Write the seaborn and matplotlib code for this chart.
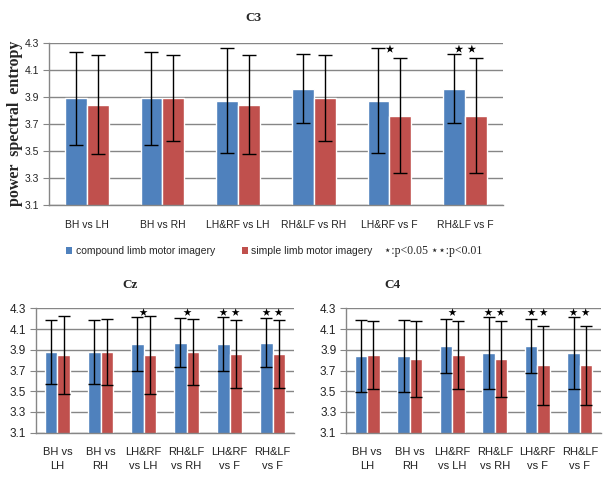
import pandas as pd
import seaborn as sns
import matplotlib
matplotlib.use("Agg")
import matplotlib.pyplot as plt
from matplotlib.patches import Patch

# comparisons
cats_c3 = ['BH vs LH', 'BH vs RH', 'LH&RF vs LH', 'RH&LF vs RH', 'LH&RF vs F', 'RH&LF vs F']
cats_low = ['BH vs\nLH', 'BH vs\nRH', 'LH&RF\nvs LH', 'RH&LF\nvs RH', 'LH&RF\nvs F', 'RH&LF\nvs F']
series = ['compound limb motor imagery', 'simple limb motor imagery']

# C3
c3_comp = [3.89, 3.89, 3.87, 3.96, 3.87, 3.96]
c3_comp_err = [0.345, 0.345, 0.39, 0.255, 0.39, 0.255]
c3_simp = [3.84, 3.89, 3.84, 3.89, 3.76, 3.76]
c3_simp_err = [0.367, 0.32, 0.367, 0.32, 0.426, 0.426]
c3_sig = ['', '', '', '', '*', '**']

# Cz
cz_comp = [3.88, 3.88, 3.96, 3.97, 3.96, 3.97]
cz_comp_err = [0.31, 0.31, 0.26, 0.24, 0.26, 0.24]
cz_simp = [3.85, 3.88, 3.85, 3.88, 3.86, 3.86]
cz_simp_err = [0.38, 0.32, 0.38, 0.32, 0.33, 0.33]
cz_sig = ['', '', '*', '*', '**', '**']

# C4
c4_comp = [3.84, 3.84, 3.94, 3.87, 3.94, 3.87]
c4_comp_err = [0.345, 0.345, 0.26, 0.35, 0.26, 0.35]
c4_simp = [3.85, 3.81, 3.85, 3.81, 3.75, 3.75]
c4_simp_err = [0.33, 0.37, 0.33, 0.37, 0.38, 0.38]
c4_sig = ['', '', '*', '**', '**', '**']

yticks = [3.1, 3.3, 3.5, 3.7, 3.9, 4.1, 4.3]
colors = ['#4F81BD', '#C0504D']
grid_c = '#868686'

sns.set_style('white')
plt.rcParams['font.family'] = ['Liberation Sans', 'DejaVu Sans']

fig = plt.figure(figsize=(6.16, 4.82), dpi=100)


def panel(rect, cats, comp, comp_err, simp, simp_err, sig, xfs, yfs, xpad, capsize, starfs):
    ax = fig.add_axes(rect)
    df = pd.DataFrame({
        'cat': cats * 2,
        'series': [series[0]] * len(cats) + [series[1]] * len(cats),
        'val': comp + simp,
    })
    sns.barplot(data=df, x='cat', y='val', hue='series', palette=colors, saturation=1,
                width=0.58, gap=0, errorbar=None, legend=False, ax=ax, zorder=2)
    errs = [comp_err, simp_err]
    vals = [comp, simp]
    bar_groups = list(ax.containers)
    for k, cont in enumerate(bar_groups):
        xs = [b.get_x() + b.get_width() / 2 for b in cont]
        ax.errorbar(xs, vals[k], yerr=errs[k], fmt='none', ecolor='black',
                    elinewidth=1, capsize=capsize, capthick=1, zorder=3)
    for i, s in enumerate(sig):
        if s:
            ax.text(i, 4.25, '\u22c6' * len(s), ha='center', va='center',
                    fontsize=starfs, color='black', zorder=4, family='DejaVu Sans')
    ax.set_ylim(3.1, 4.3)
    ax.set_xlim(-0.5, len(cats) - 0.5)
    ax.set_yticks(yticks)
    ax.set_yticklabels([f'{t:.1f}' for t in yticks], fontsize=yfs, color='#222222')
    ax.set_xticks(range(len(cats)))
    ax.set_xticklabels(cats, fontsize=xfs, color='#222222', linespacing=1.5)
    ax.set_xlabel('')
    ax.set_ylabel('')
    ax.yaxis.grid(True, color=grid_c, linewidth=1, zorder=0)
    ax.set_axisbelow(True)
    for sp in ['top', 'right']:
        ax.spines[sp].set_visible(False)
    for sp in ['left', 'bottom']:
        ax.spines[sp].set_color(grid_c)
        ax.spines[sp].set_linewidth(1)
    ax.tick_params(axis='y', length=4, color=grid_c, direction='out', pad=3, left=True)
    ax.tick_params(axis='x', length=0, pad=xpad)
    return ax


ax1 = panel([0.0795, 0.5753, 0.737, 0.336], cats_c3, c3_comp, c3_comp_err,
            c3_simp, c3_simp_err, c3_sig, 7.5, 7.5, 11, 5, 16)
ax2 = panel([0.0584, 0.1023, 0.419, 0.258], cats_low, cz_comp, cz_comp_err,
            cz_simp, cz_simp_err, cz_sig, 8, 8.5, 10, 4, 15)
ax3 = panel([0.5617, 0.1023, 0.414, 0.258], cats_low, c4_comp, c4_comp_err,
            c4_simp, c4_simp_err, c4_sig, 8, 8.5, 10, 4, 15)

serif = ['Liberation Serif', 'DejaVu Serif']
fig.text(253 / 616, 1 - 18 / 482, 'C3', ha='center', va='center',
         fontsize=9.5, fontweight='bold', family=serif)
fig.text(130 / 616, 1 - 285 / 482, 'Cz', ha='center', va='center',
         fontsize=9.5, fontweight='bold', family=serif)
fig.text(392 / 616, 1 - 285 / 482, 'C4', ha='center', va='center',
         fontsize=9.5, fontweight='bold', family=serif)
fig.text(15 / 616, 1 - 123 / 482, 'power  spectral  entropy', ha='center', va='center',
         rotation=90, fontsize=11.5, fontweight='bold', family=serif)

handles = [Patch(facecolor=c, edgecolor='none') for c in colors]
fig.legend(handles, series, loc='center left', bbox_to_anchor=(62 / 616, 1 - 251 / 482),
           ncol=2, frameon=False, handlelength=0.6, handleheight=0.6,
           handletextpad=0.3, columnspacing=2.6, prop={'size': 7.5}, borderaxespad=0)
fig.text(384 / 616, 1 - 251 / 482, '\u22c6:p<0.05 \u22c6\u22c6:p<0.01', ha='left', va='center',
         fontsize=8.5, family=['Liberation Serif', 'DejaVu Sans'])

fig.savefig('out.png', dpi=100)
